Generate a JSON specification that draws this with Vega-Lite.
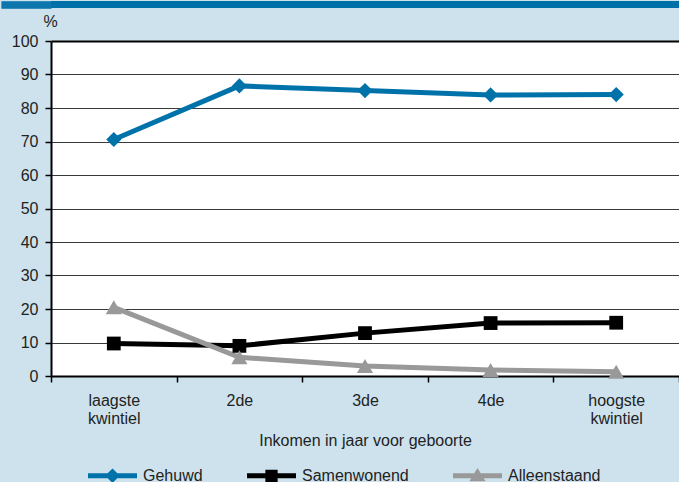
{
  "$schema": "https://vega.github.io/schema/vega-lite/v6.json",
  "background": "#cde2ed",
  "padding": 0,
  "spacing": 4,
  "columns": 1,
  "align": "none",
  "config": {
    "font": "Liberation Sans",
    "axis": {"labelFont": "Liberation Sans", "titleFont": "Liberation Sans", "labelFontSize": 16, "titleFontSize": 16, "labelColor": "#222", "titleColor": "#222", "titleFontWeight": "normal"},
    "legend": {"labelFont": "Liberation Sans", "labelFontSize": 16, "labelColor": "#222"}
  },
  "concat": [
    {
      "width": 628,
      "height": 7,
      "view": {"fill": "#0070a8", "stroke": null},
      "data": {"values": [{"a": 3.5}]},
      "mark": {"type": "point", "opacity": 0},
      "encoding": {
        "y": {
          "field": "a", "type": "quantitative",
          "scale": {"domain": [0, 7], "nice": false},
          "axis": {
            "title": null,
            "values": [0.5, 1.5, 2.5, 3.5, 4.5, 5.5, 6.5],
            "labels": false,
            "domain": false,
            "grid": false,
            "ticks": true,
            "tickSize": 50,
            "tickWidth": 1.6,
            "tickRound": false,
            "tickColor": "#0070a8",
            "tickOpacity": 1,
            "minExtent": 51,
            "maxExtent": 51
          }
        }
      }
    },
    {
      "width": 628,
      "height": 335,
      "view": {"fill": "white", "stroke": null},
      "data": {"values": [
        {"k": "laagste kwintiel", "s": "Gehuwd", "v": 70.6},
        {"k": "2de", "s": "Gehuwd", "v": 86.6},
        {"k": "3de", "s": "Gehuwd", "v": 85.2},
        {"k": "4de", "s": "Gehuwd", "v": 83.9},
        {"k": "hoogste kwintiel", "s": "Gehuwd", "v": 84.0},
        {"k": "laagste kwintiel", "s": "Samenwonend", "v": 9.7},
        {"k": "2de", "s": "Samenwonend", "v": 9.0},
        {"k": "3de", "s": "Samenwonend", "v": 12.8},
        {"k": "4de", "s": "Samenwonend", "v": 15.8},
        {"k": "hoogste kwintiel", "s": "Samenwonend", "v": 15.9},
        {"k": "laagste kwintiel", "s": "Alleenstaand", "v": 20.5},
        {"k": "2de", "s": "Alleenstaand", "v": 5.6},
        {"k": "3de", "s": "Alleenstaand", "v": 3.0},
        {"k": "4de", "s": "Alleenstaand", "v": 1.8},
        {"k": "hoogste kwintiel", "s": "Alleenstaand", "v": 1.3}
      ]},
      "encoding": {
        "x": {
          "field": "k", "type": "nominal",
          "sort": ["laagste kwintiel", "2de", "3de", "4de", "hoogste kwintiel"],
          "scale": {"type": "band", "paddingInner": 0, "paddingOuter": 0},
          "axis": {
            "title": "Inkomen in jaar voor geboorte",
            "labelAngle": 0,
            "tickBand": "extent",
            "tickSize": 6,
            "tickColor": "black",
            "tickWidth": 1.5,
            "domainColor": "black",
            "domainWidth": 2,
            "labelExpr": "datum.value ? split(datum.value, ' ') : ''",
            "labelPadding": 10,
            "labelLineHeight": 18,
            "titlePadding": 6,
            "grid": false
          }
        },
        "y": {
          "field": "v", "type": "quantitative",
          "scale": {"domain": [0, 100], "nice": false},
          "axis": {
            "title": "%",
            "titleAngle": 0,
            "titleX": -1,
            "titleY": -15,
            "titleAlign": "center",
            "titleBaseline": "alphabetic",
            "values": [0, 10, 20, 30, 40, 50, 60, 70, 80, 90, 100],
            "tickSize": 6,
            "tickColor": "black",
            "tickWidth": 1.5,
            "labelPadding": 7,
            "domainColor": "black",
            "domainWidth": 2,
            "grid": true,
            "gridColor": {"condition": {"test": "datum.value === 100", "value": "black"}, "value": "#3a3a3a"},
            "gridWidth": {"condition": {"test": "datum.value === 100", "value": 2}, "value": 1.2},
            "gridOpacity": 1,
            "minExtent": 51,
            "maxExtent": 51
          }
        },
        "color": {
          "field": "s", "type": "nominal",
          "scale": {"domain": ["Gehuwd", "Samenwonend", "Alleenstaand"], "range": ["#0072aa", "#000000", "#999999"]},
          "legend": {
            "title": null,
            "orient": "none",
            "direction": "horizontal",
            "legendX": 37,
            "legendY": 450,
            "labelOffset": 6,
            "columnPadding": 44,
            "symbolSize": 2401,
            "symbolStrokeWidth": 0,
            "encode": {
              "symbols": {
                "update": {
                  "shape": {"signal": "datum.value === 'Gehuwd' ? 'M-1,-0.1H1V0.1H-1Z M0,-0.3L0.3,0L0,0.3L-0.3,0Z' : datum.value === 'Samenwonend' ? 'M-1,-0.1H1V0.1H-1Z M-0.25,-0.25H0.25V0.25H-0.25Z' : 'M-1,-0.1H1V0.1H-1Z M0,-0.32L0.33,0.22L-0.33,0.22Z'"},
                  "fill": {"signal": "datum.value === 'Gehuwd' ? '#0072aa' : datum.value === 'Samenwonend' ? '#000000' : '#999999'"},
                  "stroke": {"value": "transparent"},
                  "strokeWidth": {"value": 0},
                  "size": {"value": 2401},
                  "opacity": {"value": 1}
                }
              }
            }
          }
        }
      },
      "layer": [
        {
          "mark": {"type": "line", "strokeWidth": 5}
        },
        {
          "transform": [{"filter": "datum.s === 'Gehuwd'"}],
          "mark": {"type": "point", "filled": true, "opacity": 1, "shape": "diamond", "size": 230}
        },
        {
          "transform": [{"filter": "datum.s === 'Samenwonend'"}],
          "mark": {"type": "point", "filled": true, "opacity": 1, "shape": "square", "size": 190}
        },
        {
          "transform": [{"filter": "datum.s === 'Alleenstaand'"}],
          "mark": {"type": "point", "filled": true, "opacity": 1, "shape": "triangle-up", "size": 260}
        }
      ]
    }
  ]
}
